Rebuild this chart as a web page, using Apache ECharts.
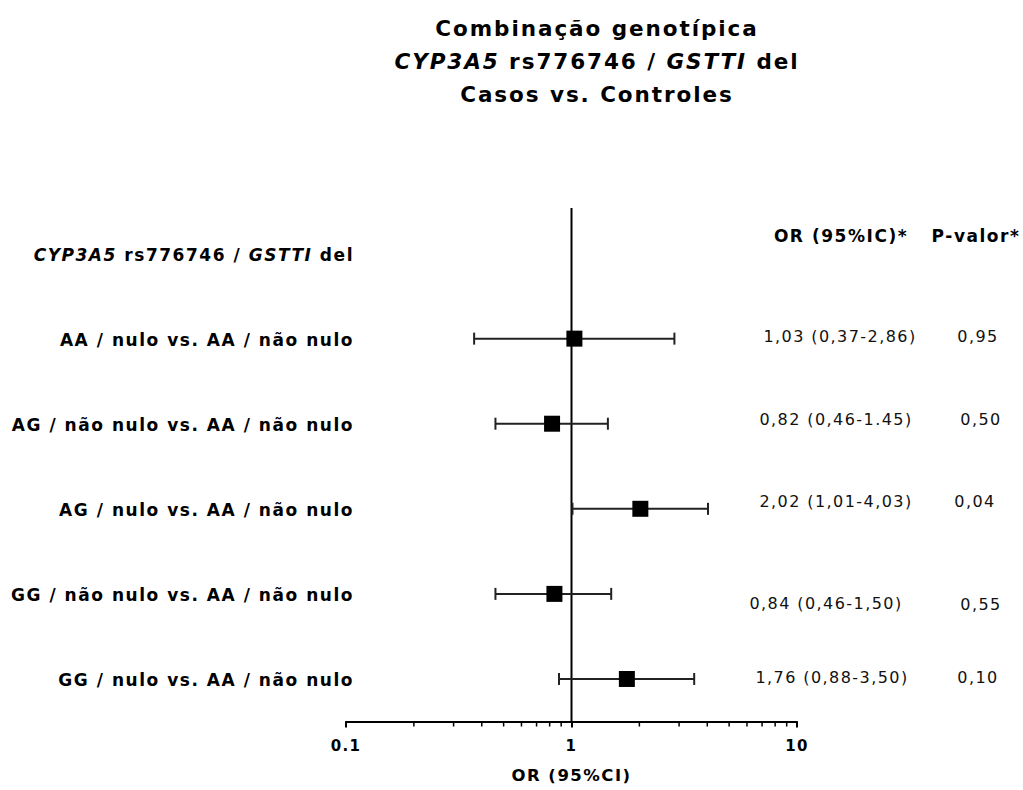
<!DOCTYPE html>
<html>
<head>
<meta charset="utf-8">
<script src="https://cdn.jsdelivr.net/npm/echarts@6/dist/echarts.min.js"></script>
<style>
  html, body { margin: 0; padding: 0; background: #fff; }
  #chart { width: 1023px; height: 790px; }
  /* slightly open tracking of the lettering */
  #chart text { letter-spacing: 0.09em; }
</style>
</head>
<body>
<div id="chart"></div>
<script>
// ---- data ----
const headerLabel = 'CYP3A5 rs776746 / GSTTI del';
const rowLabels = [
  'AA / nulo vs. AA / não nulo',
  'AG / não nulo vs. AA / não nulo',
  'AG / nulo vs. AA / não nulo',
  'GG / não nulo vs. AA / não nulo',
  'GG / nulo vs. AA / não nulo'
];
const orValues = [1.03, 0.82, 2.02, 0.84, 1.76];
const ciLower  = [0.37, 0.46, 1.01, 0.46, 0.88];
const ciUpper  = [2.86, 1.45, 4.03, 1.50, 3.50];
const orLabels = [
  '1,03 (0,37-2,86)',
  '0,82 (0,46-1.45)',
  '2,02 (1,01-4,03)',
  '0,84 (0,46-1,50)',
  '1,76 (0,88-3,50)'
];
const pLabels = ['0,95', '0,50', '0,04', '0,55', '0,10'];
const xTickLabels = [0.1, 1, 10];
const xMinorTicks = [0.2, 0.3, 0.4, 0.5, 0.6, 0.7, 0.8, 0.9, 2, 3, 4, 5, 6, 7, 8, 9];
const referenceOR = 1;

// ---- text measuring with the same tracking as the CSS above ----
const TRACKING_EM = 0.09;
const measureCtx = document.createElement('canvas').getContext('2d');
echarts.setPlatformAPI({
  measureText(text, font) {
    measureCtx.font = font || '12px sans-serif';
    const m = /(\d+(?:\.\d+)?)px/.exec(measureCtx.font);
    const size = m ? parseFloat(m[1]) : 12;
    measureCtx.letterSpacing = (size * TRACKING_EM) + 'px';
    return measureCtx.measureText(text);
  }
});

const FONT = '"DejaVu Sans", sans-serif';
const INK = '#000';

const chart = echarts.init(document.getElementById('chart'), null, { renderer: 'svg' });

const intervalData = rowLabels.map((r, i) => [ciLower[i], ciUpper[i], orValues[i], r]);
const minorTickData = xMinorTicks.map(v => [v, headerLabel]);

const titleStyle = { fontFamily: FONT, fontWeight: 'bold', fontSize: 21.5, color: INK };
const rowLabelStyle = { fontFamily: FONT, fontWeight: 'bold', fontSize: 17, color: INK, padding: [3, 0, 0, 0] };

const option = {
  animation: false,
  backgroundColor: '#fff',
  title: [
    {
      text: 'Combinação genotípica',
      left: 597, top: 17, textAlign: 'center', padding: 0,
      textStyle: titleStyle
    },
    {
      text: '{i|CYP3A5}{b| rs776746 / }{i|GSTTI}{b| del}',
      left: 597, top: 50, textAlign: 'center', padding: 0,
      textStyle: {
        rich: {
          i: Object.assign({}, titleStyle, { fontStyle: 'italic' }),
          b: titleStyle
        }
      }
    },
    {
      text: 'Casos vs. Controles',
      left: 597, top: 83, textAlign: 'center', padding: 0,
      textStyle: titleStyle
    }
  ],
  grid: { left: 346, right: 226, top: 211, bottom: 66, containLabel: false },
  xAxis: {
    type: 'log',
    logBase: 10,
    min: 0.1,
    max: 10,
    interval: 1,
    name: 'OR (95%CI)',
    nameLocation: 'middle',
    nameGap: 45,
    nameTextStyle: { fontFamily: FONT, fontWeight: 'bold', fontSize: 16.5, color: INK },
    axisLine: { show: true, lineStyle: { color: INK, width: 2 } },
    axisTick: { show: true, length: 6, lineStyle: { color: INK, width: 2 } },
    axisLabel: {
      margin: 16,
      fontFamily: FONT, fontWeight: 'bold', fontSize: 15, color: INK,
      formatter: v => {
        const hit = xTickLabels.find(t => Math.abs(t - v) < 1e-9);
        return hit === undefined ? '' : String(hit);
      }
    },
    splitLine: { show: false }
  },
  yAxis: {
    type: 'category',
    inverse: true,
    data: [headerLabel, ...rowLabels],
    axisLine: { show: false },
    axisTick: { show: false },
    splitLine: { show: false },
    axisLabel: {
      margin: -8,
      formatter: v => v === headerLabel
        ? '{i|CYP3A5}{b| rs776746 / }{i|GSTTI}{b| del}'
        : '{b|' + v + '}',
      rich: {
        i: Object.assign({}, rowLabelStyle, { fontStyle: 'italic' }),
        b: rowLabelStyle
      }
    }
  },
  series: [
    {
      // minor ticks of the log axis (2..9 in each decade)
      type: 'custom',
      silent: true,
      clip: false,
      data: minorTickData,
      encode: { x: 0, y: 1 },
      renderItem: (params, api) => {
        const cs = params.coordSys;
        const x = api.coord([api.value(0), 0])[0];
        const yBase = cs.y + cs.height;
        return {
          type: 'line',
          shape: { x1: x, y1: yBase, x2: x, y2: yBase + 5 },
          style: { stroke: INK, lineWidth: 1.5 }
        };
      }
    },
    {
      // vertical line of no effect at OR = 1
      type: 'custom',
      silent: true,
      clip: false,
      data: [[referenceOR, headerLabel]],
      encode: { x: 0, y: 1 },
      renderItem: (params, api) => {
        const cs = params.coordSys;
        const x = api.coord([api.value(0), 0])[0];
        return {
          type: 'line',
          shape: { x1: x, y1: cs.y - 3, x2: x, y2: cs.y + cs.height },
          style: { stroke: INK, lineWidth: 2 }
        };
      }
    },
    {
      // OR with 95% confidence interval
      type: 'custom',
      silent: true,
      clip: false,
      data: intervalData,
      encode: { x: 2, y: 3 },
      renderItem: (params, api) => {
        const yi = api.value(3);
        const lo = api.coord([api.value(0), yi]);
        const hi = api.coord([api.value(1), yi]);
        const mid = api.coord([api.value(2), yi]);
        const cap = 6, half = 8;
        const ls = { stroke: '#222', lineWidth: 2 };
        return {
          type: 'group',
          children: [
            { type: 'line', shape: { x1: lo[0], y1: lo[1], x2: hi[0], y2: hi[1] }, style: ls },
            { type: 'line', shape: { x1: lo[0], y1: lo[1] - cap, x2: lo[0], y2: lo[1] + cap }, style: ls },
            { type: 'line', shape: { x1: hi[0], y1: hi[1] - cap, x2: hi[0], y2: hi[1] + cap }, style: ls },
            { type: 'rect', shape: { x: mid[0] - half, y: mid[1] - half, width: 2 * half, height: 2 * half },
              style: { fill: '#000' } }
          ]
        };
      }
    }
  ]
};

chart.setOption(option);

// ---- right-hand columns: OR (95%IC) and P-valor, aligned with the rows ----
const OR_COL_X = 838;
const P_COL_X = 978;
const rowNudge = [[2, -2], [-2, -4], [-2, -7], [-12, 10], [-6, -1]];
const pNudge = [[0, -2], [3, -4], [-3, -7], [3, 11], [0, -1]];
const headerY = chart.convertToPixel({ yAxisIndex: 0 }, headerLabel) - 18;

const textEl = (x, y, text, weight, size) => ({
  type: 'text',
  x, y,
  silent: true,
  style: {
    text,
    font: weight + ' ' + size + 'px ' + FONT,
    fill: weight === 'bold' ? INK : '#111',
    textAlign: 'center',
    textVerticalAlign: 'middle'
  }
});

const graphics = [
  textEl(841, headerY, 'OR (95%IC)*', 'bold', 17),
  textEl(976, headerY, 'P-valor*', 'bold', 17)
];
rowLabels.forEach((r, i) => {
  const y = chart.convertToPixel({ yAxisIndex: 0 }, r);
  graphics.push(textEl(OR_COL_X + rowNudge[i][0], y + rowNudge[i][1], orLabels[i], 'normal', 16));
  graphics.push(textEl(P_COL_X + pNudge[i][0], y + pNudge[i][1], pLabels[i], 'normal', 16));
});
chart.setOption({ graphic: graphics });
</script>
</body>
</html>
